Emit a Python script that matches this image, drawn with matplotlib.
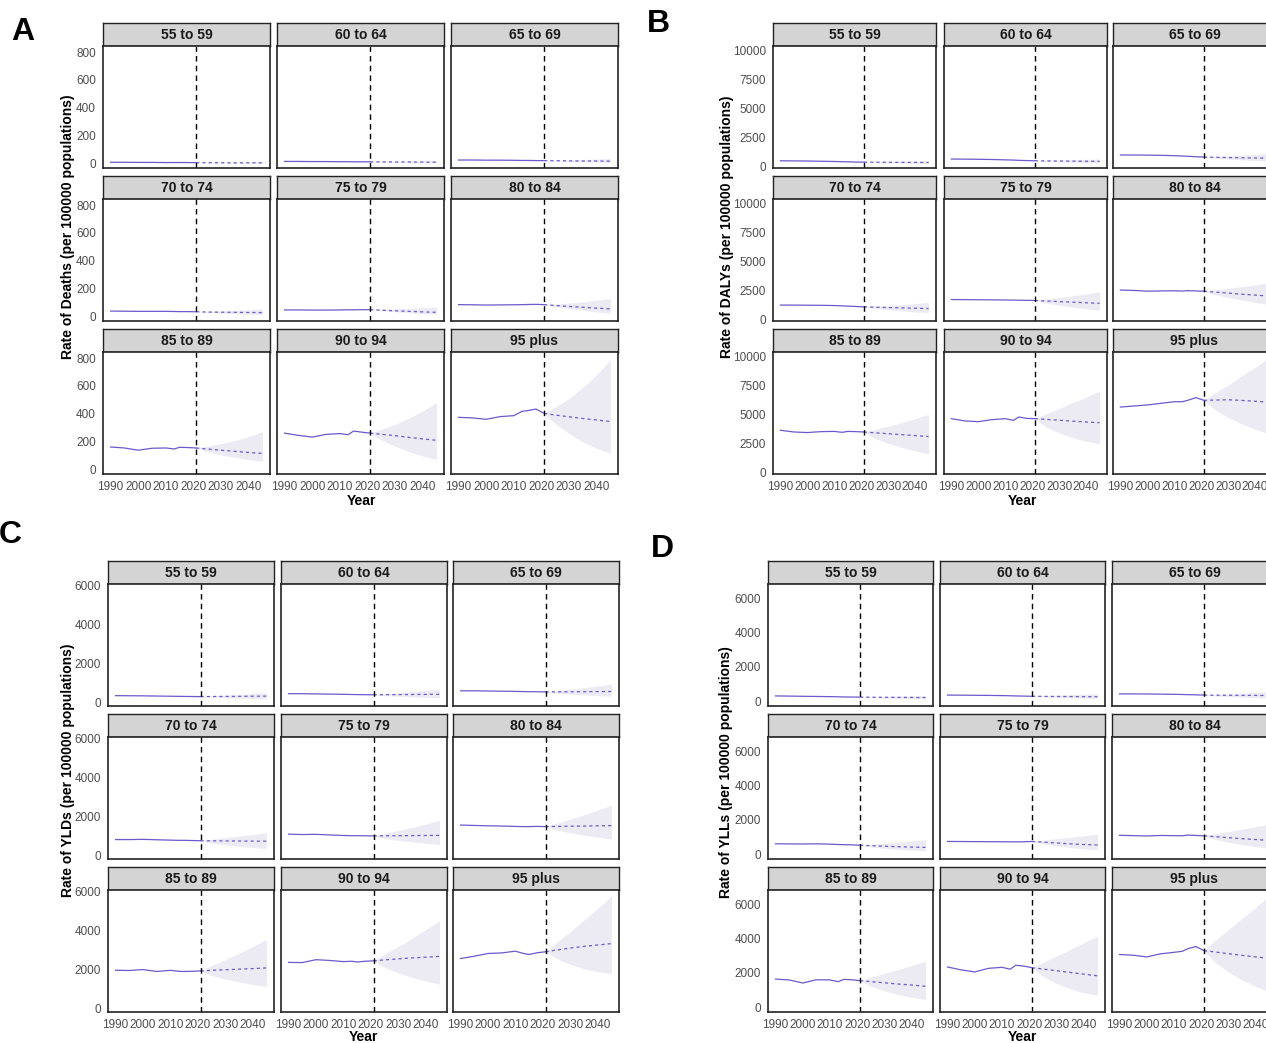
import numpy as np
import matplotlib.pyplot as plt

'''Arial-like metrics, the reference looks like an R/ggplot export'''
plt.rcParams['font.family'] = ['Liberation Sans', 'DejaVu Sans']

W, H = 1266, 1043

ages = ["55 to 59", "60 to 64", "65 to 69",
        "70 to 74", "75 to 79", "80 to 84",
        "85 to 89", "90 to 94", "95 plus"]

obs_years = [1990, 1995, 2000, 2005, 2010, 2013, 2015, 2018, 2021]
fc_years = [2021, 2025, 2030, 2035, 2040, 2045]
cut_year = 2021
x_ticks = [1990, 2000, 2010, 2020, 2030, 2040]

''' --- A: Deaths --- '''
deaths_obs = [
    [12, 12, 11, 11, 10, 10, 10, 10, 9],
    [18, 18, 17, 17, 16, 16, 15, 15, 15],
    [28, 28, 27, 27, 26, 25, 25, 24, 24],
    [42, 41, 40, 40, 40, 39, 38, 38, 37],
    [50, 50, 49, 49, 50, 51, 51, 52, 52],
    [88, 87, 85, 86, 87, 88, 89, 90, 88],
    [164, 157, 141, 155, 157, 150, 162, 160, 157],
    [263, 247, 235, 254, 260, 252, 278, 270, 263],
    [376, 372, 362, 381, 388, 419, 424, 435, 405],
]
deaths_fc = [
    [9, 9, 9, 8, 8, 8],
    [15, 15, 14, 14, 13, 13],
    [24, 23, 22, 21, 21, 20],
    [37, 35, 34, 33, 32, 31],
    [52, 48, 44, 40, 36, 33],
    [88, 82, 75, 69, 63, 57],
    [157, 150, 141, 133, 125, 118],
    [263, 255, 245, 233, 222, 212],
    [405, 392, 380, 368, 357, 346],
]
deaths_lo = [
    [9, 8, 7, 6, 5, 4],
    [15, 13, 11, 10, 8, 7],
    [24, 21, 18, 15, 13, 11],
    [37, 32, 27, 23, 20, 17],
    [52, 44, 37, 30, 24, 19],
    [88, 74, 60, 47, 36, 26],
    [157, 130, 108, 90, 74, 61],
    [263, 215, 170, 132, 100, 75],
    [405, 330, 260, 200, 155, 118],
]
deaths_hi = [
    [9, 10, 11, 12, 13, 14],
    [15, 17, 18, 20, 22, 24],
    [24, 26, 28, 31, 35, 39],
    [37, 39, 42, 46, 52, 58],
    [52, 54, 57, 61, 66, 71],
    [88, 92, 99, 108, 120, 133],
    [157, 170, 188, 210, 238, 273],
    [263, 290, 325, 370, 420, 482],
    [405, 450, 510, 590, 680, 788],
]

''' --- B: DALYs --- '''
dalys_obs = [
    [450, 440, 430, 410, 390, 370, 360, 340, 330],
    [600, 590, 580, 560, 530, 510, 490, 470, 450],
    [950, 950, 940, 920, 890, 860, 840, 800, 770],
    [1200, 1200, 1190, 1180, 1160, 1130, 1110, 1080, 1050],
    [1680, 1670, 1660, 1650, 1640, 1630, 1620, 1610, 1600],
    [2500, 2460, 2400, 2420, 2430, 2410, 2440, 2420, 2400],
    [3600, 3450, 3400, 3480, 3500, 3420, 3500, 3480, 3450],
    [4600, 4400, 4340, 4510, 4600, 4450, 4740, 4620, 4600],
    [5600, 5690, 5780, 5920, 6060, 6060, 6180, 6410, 6180],
]
dalys_fc = [
    [330, 325, 320, 315, 310, 305],
    [450, 440, 430, 420, 410, 400],
    [770, 750, 730, 710, 690, 670],
    [1050, 1020, 990, 960, 930, 900],
    [1600, 1550, 1500, 1450, 1400, 1350],
    [2400, 2320, 2230, 2140, 2060, 1980],
    [3450, 3380, 3300, 3220, 3140, 3060],
    [4600, 4540, 4460, 4380, 4310, 4250],
    [6180, 6200, 6230, 6170, 6100, 6030],
]
dalys_lo = [
    [330, 300, 270, 250, 230, 210],
    [450, 400, 360, 320, 290, 260],
    [770, 680, 600, 530, 470, 420],
    [1050, 920, 800, 700, 610, 540],
    [1600, 1380, 1190, 1020, 880, 760],
    [2400, 2100, 1850, 1630, 1430, 1250],
    [3450, 2900, 2480, 2120, 1820, 1570],
    [4600, 3900, 3370, 2960, 2650, 2440],
    [6180, 5400, 4700, 4150, 3700, 3300],
]
dalys_hi = [
    [330, 350, 370, 390, 410, 440],
    [450, 480, 510, 540, 580, 620],
    [770, 820, 870, 930, 1000, 1080],
    [1050, 1110, 1180, 1250, 1330, 1420],
    [1600, 1720, 1860, 2000, 2160, 2340],
    [2400, 2510, 2640, 2780, 2930, 3100],
    [3450, 3680, 3950, 4260, 4600, 4980],
    [4600, 5000, 5470, 5990, 6460, 6980],
    [6180, 6800, 7500, 8300, 9000, 9870],
]

''' --- C: YLDs --- '''
ylds_obs = [
    [330, 325, 320, 310, 300, 295, 290, 285, 280],
    [430, 430, 420, 410, 400, 390, 385, 380, 375],
    [580, 580, 570, 560, 550, 540, 535, 530, 520],
    [800, 800, 810, 790, 770, 760, 760, 750, 740],
    [1080, 1060, 1070, 1040, 1010, 1000, 1000, 995, 990],
    [1550, 1530, 1510, 1500, 1480, 1470, 1470, 1480, 1470],
    [1955, 1940, 1990, 1890, 1950, 1900, 1890, 1900, 1920],
    [2360, 2350, 2500, 2460, 2400, 2420, 2380, 2420, 2440],
    [2560, 2680, 2820, 2850, 2940, 2820, 2770, 2860, 2910],
]
ylds_fc = [
    [280, 285, 290, 295, 300, 305],
    [375, 380, 385, 390, 395, 400],
    [520, 525, 530, 535, 540, 545],
    [740, 735, 730, 725, 720, 715],
    [990, 995, 1000, 1005, 1010, 1015],
    [1470, 1480, 1490, 1500, 1510, 1520],
    [1920, 1950, 1980, 2010, 2040, 2074],
    [2440, 2490, 2540, 2590, 2630, 2670],
    [2910, 3000, 3100, 3190, 3260, 3330],
]
ylds_lo = [
    [280, 250, 225, 205, 185, 170],
    [375, 330, 300, 270, 245, 220],
    [520, 460, 410, 370, 330, 300],
    [740, 620, 530, 450, 390, 340],
    [990, 860, 760, 680, 610, 550],
    [1470, 1290, 1150, 1030, 920, 830],
    [1920, 1690, 1500, 1350, 1220, 1120],
    [2440, 2100, 1820, 1590, 1400, 1230],
    [2910, 2550, 2260, 2030, 1880, 1780],
]
ylds_hi = [
    [280, 320, 360, 400, 440, 480],
    [375, 430, 480, 540, 600, 670],
    [520, 590, 660, 740, 830, 920],
    [740, 820, 900, 980, 1060, 1150],
    [990, 1120, 1270, 1420, 1600, 1800],
    [1470, 1650, 1860, 2080, 2320, 2580],
    [1920, 2200, 2500, 2830, 3170, 3540],
    [2440, 2800, 3180, 3600, 4050, 4510],
    [2910, 3400, 3950, 4550, 5150, 5800],
]

''' --- D: YLLs --- '''
ylls_obs = [
    [300, 290, 280, 270, 260, 250, 240, 235, 230],
    [350, 345, 340, 330, 320, 310, 300, 290, 280],
    [420, 420, 415, 405, 395, 385, 375, 365, 350],
    [600, 595, 590, 600, 580, 560, 550, 540, 520],
    [740, 735, 730, 725, 720, 720, 715, 720, 740],
    [1100, 1080, 1060, 1090, 1080, 1070, 1110, 1090, 1070],
    [1640, 1590, 1410, 1600, 1590, 1490, 1620, 1600, 1550],
    [2350, 2180, 2060, 2270, 2330, 2220, 2450, 2400, 2310],
    [3080, 3040, 2940, 3120, 3210, 3270, 3420, 3550, 3310],
]
ylls_fc = [
    [230, 225, 220, 215, 210, 205],
    [280, 275, 270, 265, 260, 255],
    [350, 345, 340, 335, 330, 325],
    [520, 490, 460, 430, 410, 390],
    [740, 700, 650, 600, 560, 530],
    [1070, 1020, 960, 900, 850, 800],
    [1550, 1490, 1420, 1350, 1290, 1220],
    [2310, 2230, 2130, 2030, 1930, 1830],
    [3310, 3230, 3130, 3030, 2940, 2850],
]
ylls_lo = [
    [230, 200, 180, 160, 145, 130],
    [280, 240, 210, 185, 165, 150],
    [350, 300, 260, 230, 200, 180],
    [520, 420, 340, 280, 230, 190],
    [740, 600, 480, 390, 310, 250],
    [1070, 860, 690, 550, 440, 340],
    [1550, 1210, 950, 740, 570, 440],
    [2310, 1800, 1380, 1060, 840, 690],
    [3310, 2620, 2050, 1580, 1200, 900],
]
ylls_hi = [
    [230, 250, 270, 290, 310, 330],
    [280, 310, 340, 370, 400, 430],
    [350, 390, 430, 470, 510, 560],
    [520, 580, 640, 700, 770, 850],
    [740, 820, 900, 980, 1070, 1160],
    [1070, 1190, 1320, 1460, 1600, 1760],
    [1550, 1750, 1980, 2200, 2440, 2690],
    [2310, 2630, 2990, 3380, 3770, 4170],
    [3310, 3900, 4550, 5200, 5850, 6540],
]

LINE = '#6A5ACD'
RIBBON = '#ECEBF4'
STRIP = '#D4D4D4'
EDGE = '#222222'


def px_axes(fig, x, y, w, h):
    # pixel box (top-left origin) -> figure fraction
    return fig.add_axes([x / W, 1 - (y + h) / H, w / W, h / H])


def draw_block(fig, obs, fc, lo, hi, cols, rows, col_w, ylim, yticks):
    strip_h, panel_h = 23, 122
    for i, age in enumerate(ages):
        r, c = divmod(i, 3)
        x0, y0 = cols[c], rows[r]

        strip = px_axes(fig, x0, y0, col_w, strip_h)
        strip.set_facecolor(STRIP)
        strip.set_xticks([])
        strip.set_yticks([])
        for s in strip.spines.values():
            s.set_color(EDGE)
            s.set_linewidth(1.0)
        strip.text(0.5, 0.47, age, ha='center', va='center', fontsize=10,
                   fontweight='bold', color='#1A1A1A', transform=strip.transAxes)

        ax = px_axes(fig, x0, y0 + strip_h, col_w, panel_h)
        ax.fill_between(fc_years, lo[i], hi[i], color=RIBBON, lw=0)
        ax.plot(obs_years, obs[i], color=LINE, lw=0.9)
        ax.plot(fc_years, fc[i], color=LINE, lw=0.9, ls=(0, (2.5, 2.5)))
        ax.axvline(cut_year, color='black', lw=1.0, ls=(0, (4, 3)))
        ax.set_xlim(1987.25, 2047.75)
        ax.set_ylim(ylim)
        ax.set_xticks(x_ticks)
        ax.set_yticks(yticks)
        ax.tick_params(length=0, labelsize=8.5, labelcolor='#4D4D4D', pad=5,
                       labelleft=(c == 0), labelbottom=(r == 2))
        for s in ax.spines.values():
            s.set_color(EDGE)
            s.set_linewidth(1.2)


def main():
    fig = plt.figure(figsize=(W / 100, H / 100), dpi=100)

    top_rows = [23, 176, 329]
    low_rows = [561, 714, 867]

    draw_block(fig, deaths_obs, deaths_fc, deaths_lo, deaths_hi,
               [103, 277, 451], top_rows, 167, (-29, 843), [0, 200, 400, 600, 800])
    draw_block(fig, dalys_obs, dalys_fc, dalys_lo, dalys_hi,
               [773, 944, 1113], top_rows, 163, (-172, 10345), [0, 2500, 5000, 7500, 10000])
    draw_block(fig, ylds_obs, ylds_fc, ylds_lo, ylds_hi,
               [108, 281, 453], low_rows, 166, (-205, 6103), [0, 2000, 4000, 6000])
    draw_block(fig, ylls_obs, ylls_fc, ylls_lo, ylls_hi,
               [768, 940, 1112], low_rows, 165, (-290, 6865), [0, 2000, 4000, 6000])

    # panel letters, axis titles
    letters = [("A", 23, 32), ("B", 658, 24), ("C", 10, 535), ("D", 662, 549)]
    for txt, x, y in letters:
        fig.text(x / W, 1 - y / H, txt, fontsize=23, fontweight='bold',
                 ha='center', va='center')

    ylabels = [("Rate of Deaths (per 100000 populations)", 68, 227),
               ("Rate of DALYs (per 100000 populations)", 727, 227),
               ("Rate of YLDs (per 100000 populations)", 68, 770),
               ("Rate of YLLs (per 100000 populations)", 726, 772)]
    for txt, x, y in ylabels:
        fig.text(x / W, 1 - y / H, txt, rotation=90, fontsize=10,
                 fontweight='bold', ha='center', va='center')

    for x, y in [(361, 501), (1022, 501), (363, 1037), (1022, 1037)]:
        fig.text(x / W, 1 - y / H, "Year", fontsize=10, fontweight='bold',
                 ha='center', va='center')

    fig.savefig('out.png', dpi=100, facecolor='white')


if __name__ == '__main__':
    main()
